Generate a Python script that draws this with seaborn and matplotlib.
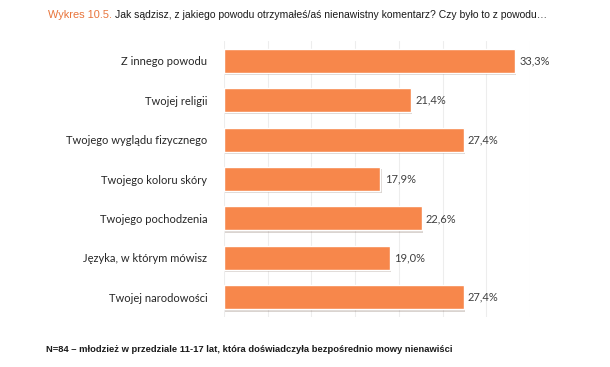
import matplotlib
matplotlib.use("Agg")
import matplotlib.pyplot as plt
import matplotlib.patheffects as pe
import seaborn as sns
import pandas as pd

# Dane z wykresu
categories = [
    "Z innego powodu",
    "Twojej religii",
    "Twojego wyglądu fizycznego",
    "Twojego koloru skóry",
    "Twojego pochodzenia",
    "Języka, w którym mówisz",
    "Twojej narodowości",
]
values = [33.3, 21.4, 27.4, 17.9, 22.6, 19.0, 27.4]
x_ticks = [0, 5, 10, 15, 20, 25, 30, 35]

title_prefix = "Wykres 10.5."
title_text = "Jak sądzisz, z jakiego powodu otrzymałeś/aś nienawistny komentarz? Czy było to z powodu…"
footer_text = "N=84 – młodzież w przedziale 11-17 lat, która doświadczyła bezpośrednio mowy nienawiści"

df = pd.DataFrame({"kategoria": categories, "procent": values})

sns.set_style("white")
plt.rcParams["font.family"] = ["Lato", "DejaVu Sans"]

fig = plt.figure(figsize=(6.10, 3.67), dpi=100)
ax = fig.add_axes([224 / 610, 1 - 317 / 367, (530 - 224) / 610, (317 - 41) / 367])

sns.barplot(data=df, x="procent", y="kategoria", color="#F7874B",
            width=0.61, saturation=1, ax=ax)

for bar in ax.patches:
    bar.set_path_effects([pe.SimplePatchShadow(offset=(0.8, -1.6), alpha=0.2), pe.Normal()])

for i, v in enumerate(values):
    ax.text(v + 0.5, i, f"{v:.1f}%".replace(".", ","), va="center", ha="left",
            fontsize=8, color="#404040")

ax.set_xlim(0, 35)
ax.set_xticks(x_ticks)
ax.xaxis.grid(True, color="#EDEDED", linewidth=0.8)
ax.set_axisbelow(True)
ax.tick_params(axis="x", labelbottom=False, length=0)
ax.tick_params(axis="y", length=0, labelsize=8, labelcolor="#262626", pad=12)
ax.set_xlabel("")
ax.set_ylabel("")
for s in ax.spines.values():
    s.set_visible(False)


def fit_text(txt, width_px):
    # dopasuj rozmiar czcionki do zadanej szerokości tekstu
    fig.canvas.draw()
    w = txt.get_window_extent().width
    txt.set_fontsize(txt.get_fontsize() * width_px / w)


narrow = ["Liberation Sans", "DejaVu Sans"]

# Tytuł
t1 = fig.text(48 / 610, 1 - 15 / 367, title_prefix, color="#E8743B", fontsize=8,
              va="center", ha="left", family=narrow)
fit_text(t1, 64)
fig.canvas.draw()
bb = t1.get_window_extent()
t2 = fig.text((bb.x1 + 3) / 610, 1 - 15 / 367, title_text,
              color="#1A1A1A", fontsize=8, va="center", ha="left", family=narrow)
fit_text(t2, 552 - bb.x1 - 3)

t3 = fig.text(46 / 610, 1 - 349 / 367, footer_text,
              color="#1A1A1A", fontsize=7, fontweight="bold", va="center", ha="left",
              family=narrow)
fit_text(t3, 407)

fig.savefig("out.png", dpi=100)
